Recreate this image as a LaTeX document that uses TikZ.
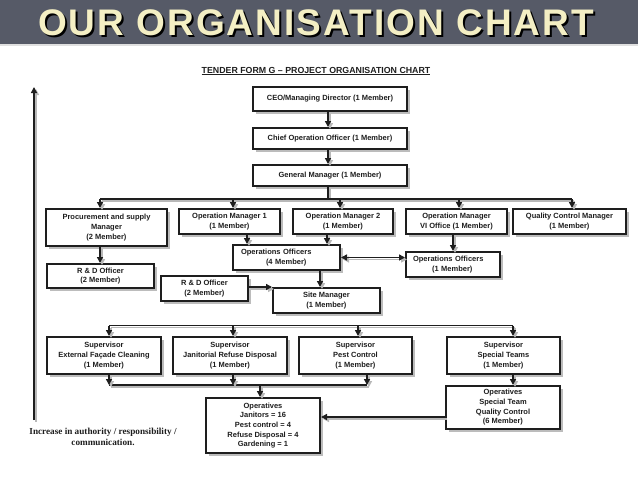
\documentclass[tikz,border=0pt]{standalone}
\usepackage{fontspec}
\setmainfont{Liberation Sans}
\newfontfamily\serifb{Liberation Serif}
\newfontfamily\titlefont[LetterSpace=5.5]{Liberation Sans}
\usetikzlibrary{shadows,arrows.meta}
\definecolor{barcol}{HTML}{565A67}
\definecolor{titlecol}{HTML}{F4EFC4}
\definecolor{ink}{HTML}{1E1E1E}
\tikzset{
  orgbox/.style={draw=ink, line width=2pt, fill=white, align=center,
    font=\fontsize{7.5}{9.7}\selectfont\bfseries, text=ink, inner sep=1pt,
    drop shadow={shadow xshift=3pt, shadow yshift=-3pt, fill=black!35, opacity=0.75}},
  conn/.style={draw=ink, line width=1.8pt,
    preaction={draw=black!28, line width=1.8pt, transform canvas={shift={(2pt,-2pt)}}}},
  arr/.style={conn, -{Triangle[length=6pt,width=6pt]}},
  arrb/.style={conn, {Triangle[length=6pt,width=6pt]}-{Triangle[length=6pt,width=6pt]}},
}
\begin{document}
\begin{tikzpicture}[x=1pt,y=-1pt]
\useasboundingbox (0,0) rectangle (638,479);
% title bar
\fill[barcol] (0,0) rectangle (638,44);
\fill[black!12] (0,44) rectangle (638,46);
\node (title) at (316,23.5) {\fontsize{37}{40}\titlefont\bfseries
  \rlap{\kern2pt\raisebox{-2pt}{\color{black}OUR ORGANISATION CHART}}\color{titlecol}OUR ORGANISATION CHART};
% subtitle
\node (sub) at (316,71) {\fontsize{8.8}{10}\selectfont\bfseries\color{ink}\underline{TENDER FORM G -- PROJECT ORGANISATION CHART}};
% level boxes
\node[orgbox, minimum width=154, minimum height=24] (ceo) at (330,99) {CEO/Managing Director (1 Member)};
\node[orgbox, minimum width=154, minimum height=21] (coo) at (330,138.5) {Chief Operation Officer (1 Member)};
\node[orgbox, minimum width=154, minimum height=21] (gm) at (330,175.5) {General Manager (1 Member)};
\node[orgbox, minimum width=121, minimum height=37] (proc) at (106.5,227.5) {Procurement and supply\\Manager\\(2 Member)};
\node[orgbox, minimum width=101, minimum height=25] (om1) at (229.5,221.5) {Operation Manager 1\\(1 Member)};
\node[orgbox, minimum width=100, minimum height=25] (om2) at (343,221.5) {Operation Manager 2\\(1 Member)};
\node[orgbox, minimum width=101, minimum height=25] (omvi) at (456.5,221.5) {Operation Manager\\VI Office (1 Member)};
\node[orgbox, minimum width=113, minimum height=25] (qc) at (569.5,221.5) {Quality Control Manager\\(1 Member)};
\node[orgbox, align=left, inner xsep=8pt, text width=91pt, minimum height=25] (ops4) at (286.5,257.5) {Operations Officers\\\hspace*{25pt}(4 Member)};
\node[orgbox, align=left, inner xsep=7pt, text width=80pt, minimum height=25] (ops1) at (453,264.5) {Operations Officers\\\hspace*{19pt}(1 Member)};
\node[orgbox, minimum width=107, minimum height=24] (rd1) at (100.5,276) {R \& D Officer\\(2 Member)};
\node[orgbox, minimum width=87, minimum height=25] (rd2) at (204.5,288.5) {R \& D Officer\\(2 Member)};
\node[orgbox, minimum width=107, minimum height=25] (site) at (326.5,300.5) {Site Manager\\(1 Member)};
\node[orgbox, minimum width=114, minimum height=37] (ext) at (104,355.5) {Supervisor\\External Façade Cleaning\\(1 Member)};
\node[orgbox, minimum width=114, minimum height=37] (jan) at (230,355.5) {Supervisor\\Janitorial Refuse Disposal\\(1 Member)};
\node[orgbox, minimum width=113, minimum height=37] (pest) at (355.5,355.5) {Supervisor\\Pest Control\\(1 Member)};
\node[orgbox, minimum width=113, minimum height=37] (spec) at (503.5,355.5) {Supervisor\\Special Teams\\(1 Member)};
\node[orgbox, minimum width=114, minimum height=55] (oper) at (263,425.5) {Operatives\\Janitors = 16\\Pest control = 4\\Refuse Disposal = 4\\Gardening = 1};
\node[orgbox, minimum width=114, minimum height=43] (opspec) at (503,407.5) {Operatives\\Special Team\\Quality Control\\(6 Member)};
% top chain
\coordinate (cx) at (328,0);
\draw[arr] (cx |- ceo.south) -- (cx |- coo.north);
\draw[arr] (cx |- coo.south) -- (cx |- gm.north);
% bus 1
\coordinate (b1) at (100,199);
\coordinate (b2) at (233,199);
\coordinate (b3) at (340,199);
\coordinate (b4) at (459,199);
\coordinate (b5) at (572,199);
\draw[conn] (cx |- gm.south) -- (cx |- b1);
\draw[conn] (b1) -- (b5);
\draw[arr] (b1) -- (b1 |- proc.north);
\draw[arr] (b2) -- (b2 |- om1.north);
\draw[arr] (b3) -- (b3 |- om2.north);
\draw[arr] (b4) -- (b4 |- omvi.north);
\draw[arr] (b5) -- (b5 |- qc.north);
% level 4
\coordinate (d1) at (247,0);
\coordinate (d2) at (327,0);
\coordinate (d3) at (453,0);
\coordinate (d4) at (320,0);
\draw[arr] (b1 |- proc.south) -- (b1 |- rd1.north);
\draw[arr] (d1 |- om1.south) -- (d1 |- ops4.north);
\draw[arr] (d2 |- om2.south) -- (d2 |- ops4.north);
\draw[arr] (d3 |- omvi.south) -- (d3 |- ops1.north);
\draw[arrb] (ops4.east) -- (ops4.east -| ops1.west);
\draw[arr] (d4 |- ops4.south) -- (d4 |- site.north);
\draw[arr] ([yshift=1.5]rd2.east) -- ([yshift=1.5]rd2.east -| site.west);
% bus 2
\coordinate (s1) at (109,325.5);
\coordinate (s2) at (233,325.5);
\coordinate (s3) at (358,325.5);
\coordinate (s4) at (513,325.5);
\draw[conn] (s1) -- (s4);
\draw[arr] (s1) -- (s1 |- ext.north);
\draw[arr] (s2) -- (s2 |- jan.north);
\draw[arr] (s3) -- (s3 |- pest.north);
\draw[arr] (s4) -- (s4 |- spec.north);
% bus 3
\coordinate (u1) at (109,385);
\coordinate (u2) at (233,385);
\coordinate (u3) at (367,385);
\coordinate (u4) at (260,385);
\draw[conn] (u1) -- (u3);
\draw[arr] (u1 |- ext.south) -- (u1);
\draw[arr] (u2 |- jan.south) -- (u2);
\draw[arr] (u3 |- pest.south) -- (u3);
\draw[arr] (u4) -- (u4 |- oper.north);
\draw[arr] (s4 |- spec.south) -- (s4 |- opspec.north);
\coordinate (w) at (0,417);
\draw[arr] (w -| opspec.west) -- (w -| oper.east);
% left authority arrow
\coordinate (la) at (34,420);
\coordinate (lb) at (34,87);
\draw[arr] (la) -- (lb);
\node[align=center, font=\serifb\fontsize{9.2}{11}\selectfont\bfseries, text=ink] (incr) at (103,436.5) {Increase in authority / responsibility /\\communication.};
\end{tikzpicture}
\end{document}
